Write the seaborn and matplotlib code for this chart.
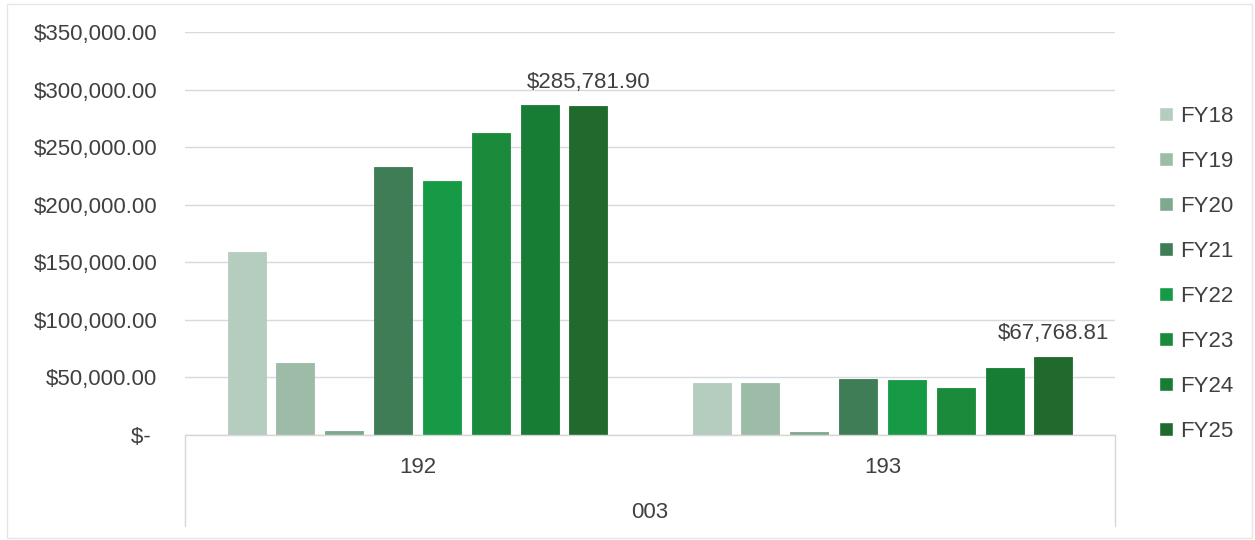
import matplotlib
matplotlib.use("Agg")
import matplotlib.pyplot as plt
import seaborn as sns
import pandas as pd
from matplotlib.patches import Rectangle

categories = ["192", "193"]
group_label = "003"
years = ["FY18", "FY19", "FY20", "FY21", "FY22", "FY23", "FY24", "FY25"]
values_192 = [159000, 62500, 3700, 232400, 220700, 262400, 286500, 285781.90]
values_193 = [45400, 45000, 2500, 48300, 47400, 40500, 57900, 67768.81]
colors = ["#b4cdbf", "#9dbca7", "#7fa98f", "#3e7d55", "#179a46", "#1a8b3b", "#177c34", "#216a2e"]
yticks = [0, 50000, 100000, 150000, 200000, 250000, 300000, 350000]
ytick_labels = ["$- ", "$50,000.00", "$100,000.00", "$150,000.00", "$200,000.00",
                "$250,000.00", "$300,000.00", "$350,000.00"]

rows = []
for cat, vals in zip(categories, [values_192, values_193]):
    for fy, v in zip(years, vals):
        rows.append({"cat": cat, "fy": fy, "value": v})
df = pd.DataFrame(rows)

sns.set_theme(style="white")
plt.rcParams["font.family"] = ["Liberation Sans", "DejaVu Sans"]

FS = 16
TXT = "#404040"
W, H = 1255, 540
fig = plt.figure(figsize=(W / 100, H / 100), dpi=100)
fig.patch.set_facecolor("white")
ax = fig.add_axes([185 / W, (H - 435) / H, (1115 - 185) / W, (435 - 32) / H])

sns.barplot(data=df, x="cat", y="value", hue="fy", hue_order=years, order=categories,
            palette=colors, width=0.84, gap=0.22, ax=ax, saturation=1, legend=True)

for cont, c in zip(ax.containers, colors):
    for p in cont:
        p.set_edgecolor(c)
        p.set_linewidth(0.6)

ax.set_ylim(0, 350000)
ax.set_xlim(-0.5, 1.5)
ax.set_yticks(yticks)
ax.set_yticklabels(ytick_labels)
ax.yaxis.grid(True, color="#d8d8e2", linewidth=1.0)
ax.set_axisbelow(True)
for s in ["top", "right", "left"]:
    ax.spines[s].set_visible(False)
ax.spines["bottom"].set_color("#d6d6d6")
ax.spines["bottom"].set_linewidth(1.0)
ax.tick_params(axis="y", length=0, pad=20, labelsize=FS, labelcolor=TXT)
ax.tick_params(axis="x", length=0, pad=15.5, labelsize=FS, labelcolor=TXT)
ax.set_xlabel("")
ax.set_ylabel("")

# data labels on FY25
last = ax.containers[-1]
ax.bar_label(last, labels=[f"${v:,.2f}" for v in [values_192[-1], values_193[-1]]],
             padding=9, fontsize=FS, color=TXT)

# hierarchical category box
for xa in [0, 1]:
    ax.plot([xa, xa], [0, -0.225], transform=ax.transAxes, color="#d6d6d6",
            linewidth=1.0, clip_on=False)
ax.text(0.5, -0.193, group_label, transform=ax.transAxes, ha="center", va="center",
        fontsize=FS, color=TXT)

# legend
handles, labels = ax.get_legend_handles_labels()
ax.legend(handles, labels, loc="center left", bbox_to_anchor=(1.026, 0.40),
          frameon=False, fontsize=FS, handlelength=0.63, handleheight=0.63,
          handletextpad=0.3, labelspacing=1.08, labelcolor=TXT)

# faint outer frame
fig.add_artist(Rectangle((7 / W, 2 / H), (W - 10) / W, (H - 6) / H, transform=fig.transFigure,
                         fill=False, edgecolor="#e6e6e6", linewidth=1.0))

fig.savefig("out.png", dpi=100)
